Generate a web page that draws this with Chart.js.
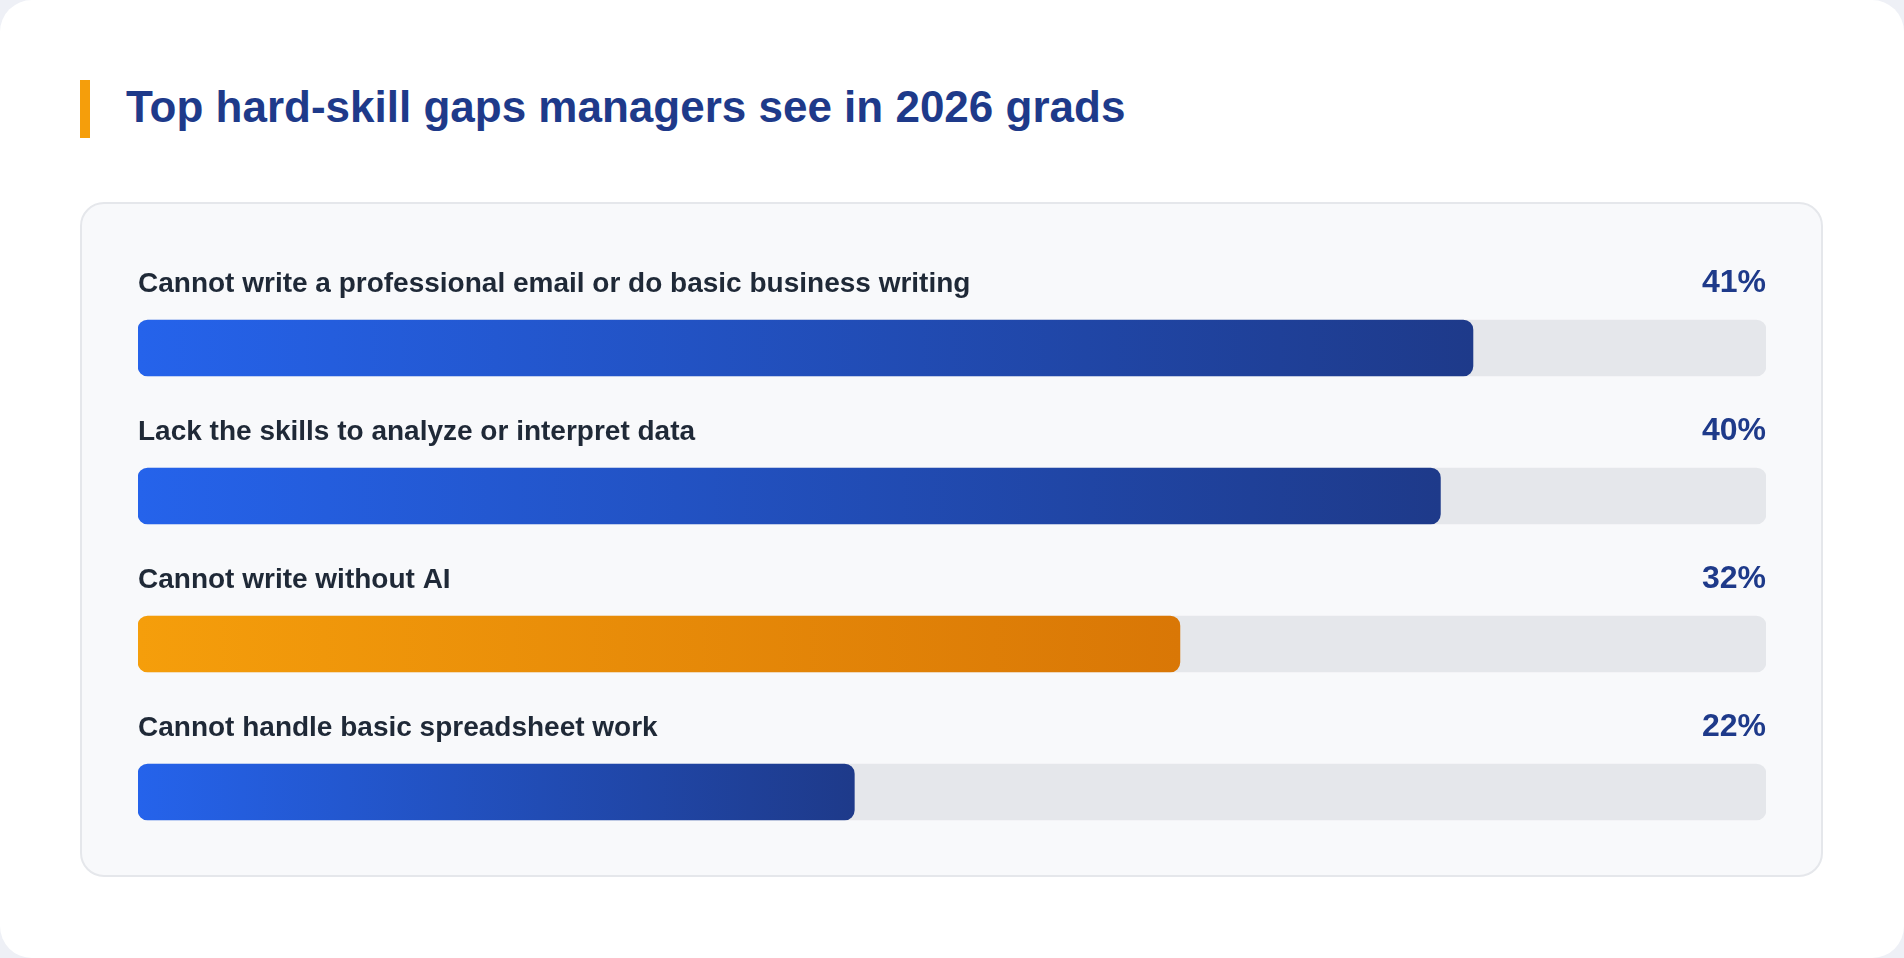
<!DOCTYPE html>
<html>
<head>
<meta charset="utf-8">
<title>Top hard-skill gaps</title>
<script src="https://cdn.jsdelivr.net/npm/chart.js@4.4.1/dist/chart.umd.min.js"></script>
<style>
    html, body {
        margin: 0;
        padding: 0;
        background: #eef0f6;
        font-family: "Liberation Sans", Arial, sans-serif;
    }
    .page {
        position: absolute;
        left: 0;
        top: 0;
        width: 1904px;
        height: 958px;
        background: #ffffff;
        border-radius: 32px;
        overflow: hidden;
    }
    .accent {
        position: absolute;
        left: 80px;
        top: 80px;
        width: 10px;
        height: 58px;
        background: #f59e0b;
    }
    .title {
        position: absolute;
        left: 126px;
        top: 78px;
        margin: 0;
        font-size: 44px;
        line-height: 58px;
        font-weight: bold;
        color: #1e3a8a;
        white-space: nowrap;
    }
    .card {
        position: absolute;
        left: 80px;
        top: 202px;
        width: 1739px;
        height: 671px;
        background: #f8f9fb;
        border: 2px solid #e5e7eb;
        border-radius: 24px;
    }
    #gapsChart {
        position: absolute;
        left: 138px;
        top: 230px;
    }
</style>
</head>
<body>
<div class="page">
    <div class="accent"></div>
    <h1 class="title">Top hard-skill gaps managers see in 2026 grads</h1>
    <div class="card"></div>
    <canvas id="gapsChart" width="1628" height="636"></canvas>
</div>
<script>
    // survey data
    var skills = [
        'Cannot write a professional email or do basic business writing',
        'Lack the skills to analyze or interpret data',
        'Cannot write without AI',
        'Cannot handle basic spreadsheet work'
    ];
    var shares = [41, 40, 32, 22];
    var trackValues = [50, 50, 50, 50];
    var highlighted = [false, false, true, false];
    var scaleMax = 50;

    var blueStart = '#2563eb';
    var blueEnd = '#1e3a8a';
    var orangeStart = '#f59e0b';
    var orangeEnd = '#d97706';

    var barGradient = function (context) {
        var chart = context.chart;
        var area = chart.chartArea;
        var hot = highlighted[context.dataIndex];
        if (!area || !chart.scales.x) {
            return hot ? orangeEnd : blueEnd;
        }
        var xEnd = chart.scales.x.getPixelForValue(shares[context.dataIndex]);
        var g = chart.ctx.createLinearGradient(area.left, 0, xEnd, 0);
        g.addColorStop(0, hot ? orangeStart : blueStart);
        g.addColorStop(1, hot ? orangeEnd : blueEnd);
        return g;
    };

    // labels above each bar, value at the right end
    var rowLabels = {
        id: 'rowLabels',
        afterDatasetsDraw: function (chart) {
            var ctx = chart.ctx;
            var area = chart.chartArea;
            var yScale = chart.scales.y;
            ctx.save();
            ctx.textBaseline = 'alphabetic';
            for (var i = 0; i < skills.length; i++) {
                var baseline = yScale.getPixelForValue(i) - 56;
                ctx.font = 'bold 28px "Liberation Sans", Arial, sans-serif';
                ctx.fillStyle = '#1f2937';
                ctx.textAlign = 'left';
                ctx.fillText(skills[i], area.left, baseline);
                ctx.font = 'bold 32px "Liberation Sans", Arial, sans-serif';
                ctx.fillStyle = '#1e3a8a';
                ctx.textAlign = 'right';
                ctx.fillText(shares[i] + '%', area.right, baseline);
            }
            ctx.restore();
        }
    };

    var ctx = document.getElementById('gapsChart').getContext('2d');
    var gapsChart = new Chart(ctx, {
        type: 'bar',
        data: {
            labels: skills,
            datasets: [
                {
                    label: 'Share of managers',
                    data: shares,
                    backgroundColor: barGradient,
                    borderRadius: 10,
                    borderSkipped: false,
                    barThickness: 56,
                    grouped: false,
                    order: 1
                },
                {
                    label: 'Track',
                    data: trackValues,
                    backgroundColor: '#e5e7eb',
                    borderRadius: 10,
                    borderSkipped: false,
                    barThickness: 56,
                    grouped: false,
                    order: 2
                }
            ]
        },
        options: {
            indexAxis: 'y',
            responsive: false,
            animation: false,
            layout: {
                padding: { top: 44, left: 0, right: 0, bottom: 0 }
            },
            plugins: {
                legend: { display: false },
                tooltip: { enabled: false }
            },
            scales: {
                x: {
                    display: false,
                    min: 0,
                    max: scaleMax
                },
                y: {
                    display: false
                }
            }
        },
        plugins: [rowLabels]
    });
</script>
</body>
</html>
